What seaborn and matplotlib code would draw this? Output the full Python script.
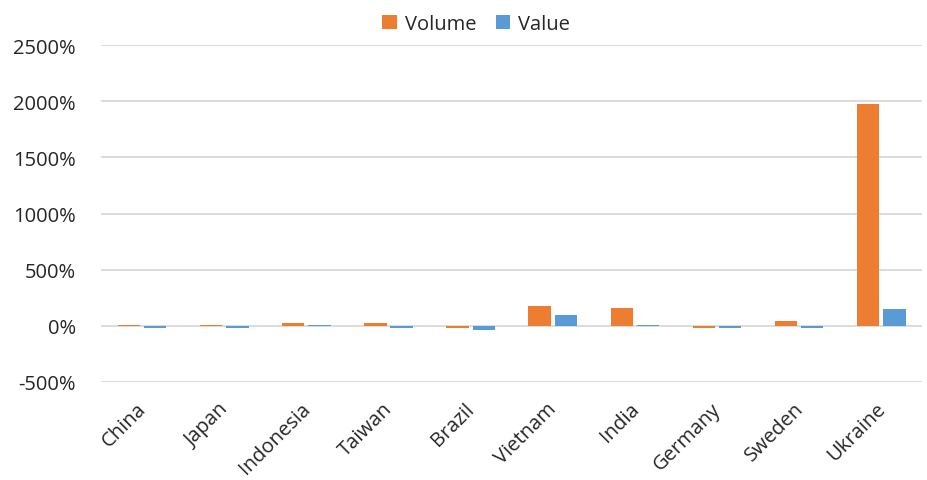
import pandas as pd
import numpy as np
import matplotlib.pyplot as plt
import matplotlib.transforms as mtransforms
import seaborn as sns

countries = ['China', 'Japan', 'Indonesia', 'Taiwan', 'Brazil',
             'Vietnam', 'India', 'Germany', 'Sweden', 'Ukraine']
volume = [4, 3, 25, 25, -22, 180, 160, -22, 40, 1975]
value = [-20, -20, 3, -20, -40, 95, 3, -22, -22, 145]

df = pd.DataFrame({
    'country': countries * 2,
    'pct': volume + value,
    'series': ['Volume'] * len(countries) + ['Value'] * len(countries),
})

sns.set_style("white")
plt.rcParams['font.family'] = ['Open Sans', 'DejaVu Sans']

fig = plt.figure(figsize=(9.27, 4.81), dpi=100)
ax = fig.add_axes([0.109, 0.204, 0.886, 0.70])
sns.barplot(data=df, x='country', y='pct', hue='series',
            palette={'Volume': '#ED7D31', 'Value': '#5B9BD5'},
            saturation=1, linewidth=0, width=0.64, gap=0.15, ax=ax, legend=True)

ax.set_ylim(-500, 2500)
ax.set_yticks(np.arange(-500, 2501, 500))
ax.set_yticklabels([f"{t}%" for t in range(-500, 2501, 500)], fontsize=14.5)
ax.set_xlim(-0.5, 9.5)
ax.grid(axis='y', color='#D9D9D9', linewidth=1.3)
ax.set_axisbelow(True)
for s in ax.spines.values():
    s.set_visible(False)
ax.tick_params(axis='y', length=0, pad=18)
ax.tick_params(axis='x', length=0, pad=12)
offset = mtransforms.ScaledTranslation(-6 / 100, 0, fig.dpi_scale_trans)
for lab in ax.get_xticklabels():
    lab.set_rotation(45)
    lab.set_ha('right')
    lab.set_rotation_mode('anchor')
    lab.set_fontsize(14.5)
    lab.set_transform(lab.get_transform() + offset)
ax.set_xlabel('')
ax.set_ylabel('')

ax.legend(loc='lower center', bbox_to_anchor=(0.457, 0.98), ncol=2, frameon=False,
          fontsize=14.5, handlelength=0.7, handleheight=0.7, columnspacing=1.0,
          handletextpad=0.4)

fig.savefig('out.png', dpi=100)
